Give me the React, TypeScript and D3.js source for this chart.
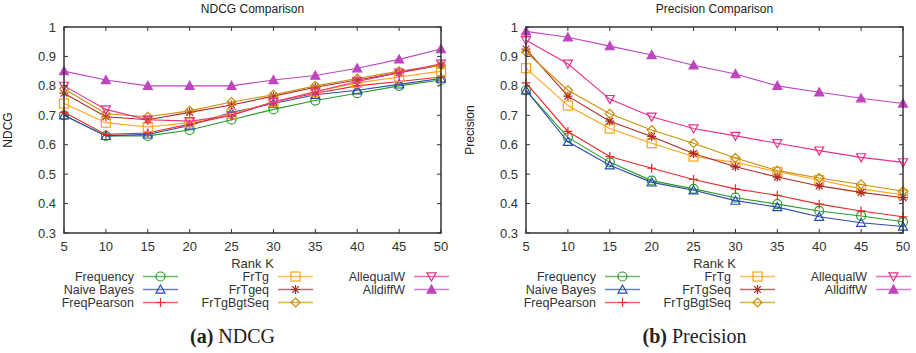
import React from 'react';
import * as d3 from 'd3';

const rankK = [5, 10, 15, 20, 25, 30, 35, 40, 45, 50];
const yTicks = [0.3, 0.4, 0.5, 0.6, 0.7, 0.8, 0.9, 1];

const ndcgNames = ['Frequency', 'Naive Bayes', 'FreqPearson', 'FrTg', 'FrTgeq', 'FrTgBgtSeq', 'AllequalW', 'AlldiffW'];
const precNames = ['Frequency', 'Naive Bayes', 'FreqPearson', 'FrTg', 'FrTgSeq', 'FrTgBgtSeq', 'AllequalW', 'AlldiffW'];

const colors = ['#2a9a2a', '#2b4bb0', '#e82a2a', '#ffa31a', '#b02a2a', '#c8900c', '#e8308a', '#bf45bf'];
const markers = ['circle', 'triUp', 'plus', 'square', 'star', 'diamond', 'triDown', 'triFill'];

// NDCG values
const ndcgFrequency = [0.70, 0.63, 0.63, 0.65, 0.685, 0.72, 0.75, 0.775, 0.80, 0.82];
const ndcgNaive = [0.70, 0.63, 0.635, 0.665, 0.71, 0.74, 0.77, 0.785, 0.805, 0.825];
const ndcgPearson = [0.71, 0.635, 0.64, 0.67, 0.70, 0.745, 0.775, 0.80, 0.815, 0.83];
const ndcgFrTg = [0.74, 0.675, 0.66, 0.675, 0.705, 0.745, 0.78, 0.81, 0.83, 0.85];
const ndcgFrTgeq = [0.775, 0.695, 0.685, 0.71, 0.735, 0.765, 0.795, 0.82, 0.845, 0.87];
const ndcgBgt = [0.79, 0.705, 0.695, 0.715, 0.745, 0.77, 0.80, 0.825, 0.85, 0.87];
const ndcgEqual = [0.80, 0.72, 0.685, 0.68, 0.70, 0.745, 0.78, 0.815, 0.845, 0.875];
const ndcgDiff = [0.85, 0.82, 0.80, 0.80, 0.80, 0.82, 0.835, 0.86, 0.89, 0.925];

// Precision values
const precFrequency = [0.785, 0.625, 0.54, 0.478, 0.45, 0.42, 0.398, 0.375, 0.358, 0.338];
const precNaive = [0.785, 0.61, 0.53, 0.472, 0.445, 0.41, 0.388, 0.355, 0.335, 0.322];
const precPearson = [0.81, 0.645, 0.56, 0.52, 0.482, 0.45, 0.428, 0.398, 0.375, 0.355];
const precFrTg = [0.86, 0.733, 0.655, 0.605, 0.56, 0.54, 0.508, 0.48, 0.45, 0.43];
const precFrTgSeq = [0.925, 0.765, 0.68, 0.628, 0.57, 0.525, 0.49, 0.46, 0.438, 0.42];
const precBgt = [0.915, 0.785, 0.705, 0.65, 0.605, 0.555, 0.512, 0.487, 0.465, 0.442];
const precEqual = [0.955, 0.875, 0.755, 0.695, 0.655, 0.63, 0.605, 0.58, 0.557, 0.54];
const precDiff = [0.985, 0.965, 0.935, 0.905, 0.87, 0.84, 0.80, 0.778, 0.758, 0.74];

const ndcgSeries = [ndcgFrequency, ndcgNaive, ndcgPearson, ndcgFrTg, ndcgFrTgeq, ndcgBgt, ndcgEqual, ndcgDiff];
const precSeries = [precFrequency, precNaive, precPearson, precFrTg, precFrTgSeq, precBgt, precEqual, precDiff];

const FONT = '"Liberation Sans", Arial, sans-serif';

function Marker({ type, x, y, color }: { type: string; x: number; y: number; color: string }) {
  const s = 4.5;
  const common = { stroke: color, strokeWidth: 1.2, fill: 'none' };
  switch (type) {
    case 'circle':
      return <circle cx={x} cy={y} r={s} {...common} />;
    case 'triUp':
      return <path d={`M${x},${y - s}L${x + s},${y + s * 0.8}L${x - s},${y + s * 0.8}Z`} {...common} />;
    case 'triFill':
      return <path d={`M${x},${y - s}L${x + s},${y + s * 0.8}L${x - s},${y + s * 0.8}Z`} {...common} fill={color} />;
    case 'triDown':
      return <path d={`M${x},${y + s}L${x + s},${y - s * 0.8}L${x - s},${y - s * 0.8}Z`} {...common} />;
    case 'plus':
      return <path d={`M${x - s},${y}H${x + s}M${x},${y - s}V${y + s}`} {...common} />;
    case 'square':
      return <rect x={x - s} y={y - s} width={s * 2} height={s * 2} {...common} />;
    case 'star':
      return (
        <path
          d={`M${x - s},${y}H${x + s}M${x},${y - s}V${y + s}M${x - s * 0.75},${y - s * 0.75}L${x + s * 0.75},${y + s * 0.75}M${x - s * 0.75},${y + s * 0.75}L${x + s * 0.75},${y - s * 0.75}`}
          {...common}
        />
      );
    case 'diamond':
      return <path d={`M${x},${y - s}L${x + s},${y}L${x},${y + s}L${x - s},${y}Z`} {...common} />;
    default:
      return null;
  }
}

function Panel({ left, title, ylabel, names, series, tag, caption }: any) {
  const width = 377;
  const top = 27;
  const bottom = 233;
  const x = d3.scaleLinear().domain([5, 50]).range([left, left + width]);
  const y = d3.scaleLinear().domain([0.3, 1]).range([bottom, top]);
  const line = d3.line<number>().x((d, i) => x(rankK[i])).y(d => y(d));
  const cx = left + width / 2;

  // legend columns: text right edge, line start
  const legCols = [left + 70, left + 205, left + 341];
  const legRows = [276.5, 289.5, 302.5];

  return (
    <g fontFamily={FONT}>
      <text x={cx} y={13} textAnchor="middle" fontSize={12} fill="#222">{title}</text>
      <text transform={`translate(${left - 52},${(top + bottom) / 2}) rotate(-90)`} textAnchor="middle" fontSize={12} fill="#222">{ylabel}</text>

      {series.map((vals: number[], si: number) => (
        <g key={si}>
          <path d={line(vals) || ''} fill="none" stroke={colors[si]} strokeWidth={1.1} />
          {vals.map((v, i) => (
            <Marker key={i} type={markers[si]} x={x(rankK[i])} y={y(v)} color={colors[si]} />
          ))}
        </g>
      ))}

      {/* ticks */}
      {yTicks.map(t => (
        <g key={t}>
          <line x1={left} x2={left + 4} y1={y(t)} y2={y(t)} stroke="#333" />
          <line x1={left + width} x2={left + width - 4} y1={y(t)} y2={y(t)} stroke="#333" />
          <text x={left - 8} y={y(t) + 4.5} textAnchor="end" fontSize={13} fill="#333">{t}</text>
        </g>
      ))}
      {rankK.map(t => (
        <g key={t}>
          <line x1={x(t)} x2={x(t)} y1={bottom} y2={bottom - 4} stroke="#333" />
          <line x1={x(t)} x2={x(t)} y1={top} y2={top + 4} stroke="#333" />
          <text x={x(t)} y={bottom + 18} textAnchor="middle" fontSize={13} fill="#333">{t}</text>
        </g>
      ))}
      <rect x={left} y={top} width={width} height={bottom - top} fill="none" stroke="#333" strokeWidth={1.5} />

      <text x={cx} y={268} textAnchor="middle" fontSize={13} fill="#333">Rank K</text>

      {names.map((n: string, i: number) => {
        const col = Math.floor(i / 3);
        const row = i % 3;
        const tx = legCols[col];
        const ty = legRows[row];
        return (
          <g key={n}>
            <text x={tx} y={ty + 4.5} textAnchor="end" fontSize={12.5} fill="#333">{n}</text>
            <line x1={tx + 9} x2={tx + 44} y1={ty} y2={ty} stroke={colors[i]} strokeWidth={1.5} opacity={0.7} />
            <Marker type={markers[i]} x={tx + 26.5} y={ty} color={colors[i]} />
          </g>
        );
      })}

      <text x={cx - 20} y={343} textAnchor="middle" fontSize={20} fontFamily='"Liberation Serif", "Times New Roman", serif' fill="#222">
        <tspan fontWeight="bold">{tag}</tspan> {caption}
      </text>
    </g>
  );
}

export default function App() {
  return (
    <svg width={916} height={353} style={{ position: 'absolute', left: 0, top: 0, background: '#fff' }}>
      <Panel left={64} title="NDCG Comparison" ylabel="NDCG" names={ndcgNames} series={ndcgSeries} tag="(a)" caption="NDCG" />
      <Panel left={526} title="Precision Comparison" ylabel="Precision" names={precNames} series={precSeries} tag="(b)" caption="Precision" />
    </svg>
  );
}
